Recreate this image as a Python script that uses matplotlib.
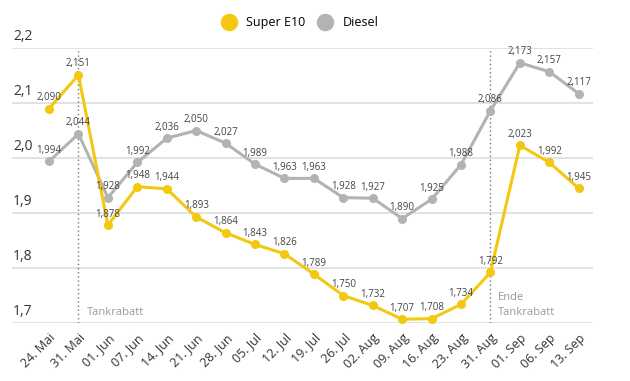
import matplotlib
matplotlib.use("Agg")
import matplotlib.pyplot as plt

plt.rcParams['font.family'] = ['Open Sans', 'DejaVu Sans']

dates = ["24. Mai", "31. Mai", "01. Jun", "07. Jun", "14. Jun", "21. Jun", "28. Jun",
         "05. Jul", "12. Jul", "19. Jul", "26. Jul", "02. Aug", "09. Aug", "16. Aug",
         "23. Aug", "31. Aug", "01. Sep", "06. Sep", "13. Sep"]
e10 = [2.090, 2.151, 1.878, 1.948, 1.944, 1.893, 1.864, 1.843, 1.826, 1.789,
       1.750, 1.732, 1.707, 1.708, 1.734, 1.792, 2.023, 1.992, 1.945]
diesel = [1.994, 2.044, 1.928, 1.992, 2.036, 2.050, 2.027, 1.989, 1.963, 1.963,
          1.928, 1.927, 1.890, 1.925, 1.988, 2.086, 2.173, 2.157, 2.117]
yticks = [1.7, 1.8, 1.9, 2.0, 2.1, 2.2]
marks = [(1, "Tankrabatt"), (15, "Ende\nTankrabatt")]

yellow = "#F2C811"
grey = "#B3B3B3"

fig = plt.figure(figsize=(6.3, 3.81), dpi=100)
ax = fig.add_axes([0.019, 0.152, 0.922, 0.722])

x = list(range(len(dates)))
ax.plot(x, diesel, color=grey, lw=2.2, marker="o", ms=5.5, zorder=3, label="Diesel")
ax.plot(x, e10, color=yellow, lw=2.2, marker="o", ms=5.5, zorder=4, label="Super E10")

for xi, v in zip(x, diesel):
    ax.annotate(f"{v:.3f}".replace(".", ","), (xi, v), xytext=(0, 4),
                textcoords="offset points", ha="center", va="bottom",
                fontsize=7, color="#444444", zorder=5)
for xi, v in zip(x, e10):
    ax.annotate(f"{v:.3f}".replace(".", ","), (xi, v), xytext=(0, 4),
                textcoords="offset points", ha="center", va="bottom",
                fontsize=7, color="#444444", zorder=5)

for t in yticks:
    ax.axhline(t, color="#DDDDDD", lw=1.2, zorder=1)
    ax.text(-1.22, t + 0.008, f"{t:.1f}".replace(".", ","), fontsize=10,
            color="#333333", ha="left", va="bottom")

for xi, txt in marks:
    ax.plot([xi, xi], [1.7, 2.2], color="#777777", lw=1, ls=(0, (1, 2)), zorder=2)
    ax.text(xi + 0.27, 1.71, txt, fontsize=8, color="#999999",
            ha="left", va="bottom", linespacing=1.5)

ax.set_xlim(-1.26, 18.48)
ax.set_ylim(1.7, 2.2)
ax.set_yticks([])
ax.set_xticks(x)
ax.set_xticklabels(dates, rotation=45, ha="right", rotation_mode="anchor",
                   fontsize=9, color="#333333")
ax.tick_params(axis="x", length=0, pad=6)
for s in ax.spines.values():
    s.set_visible(False)

h, l = ax.get_legend_handles_labels()
fig.legend([h[1], h[0]], [l[1], l[0]], loc="center", bbox_to_anchor=(0.482, 0.94),
           ncol=2, frameon=False, fontsize=9, handlelength=0, handletextpad=1.4,
           columnspacing=1.6, markerscale=2.1)
leg = fig.legends[0]
for lh in leg.legend_handles:
    lh.set_linestyle("none")

fig.savefig("out.png", dpi=100)
